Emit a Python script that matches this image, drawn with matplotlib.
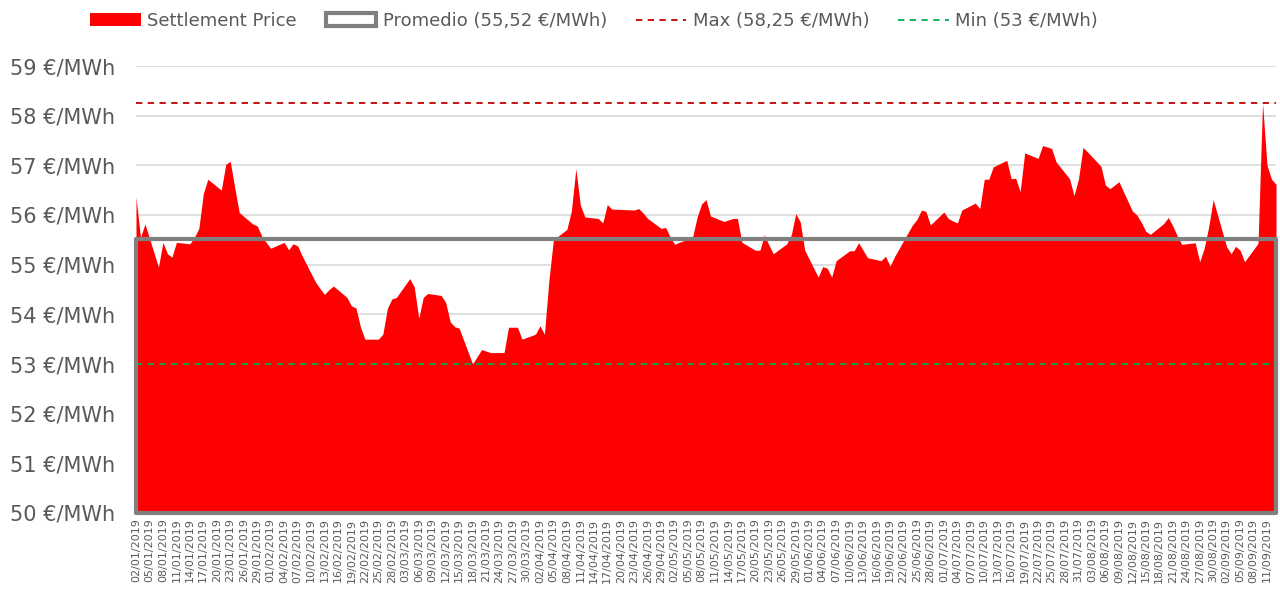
import matplotlib
matplotlib.use('Agg')
import matplotlib.pyplot as plt
from matplotlib.patches import Patch
from matplotlib.lines import Line2D
import matplotlib.dates as mdates
import pandas as pd

plt.rcParams['font.family'] = 'DejaVu Sans'

# Business days Jan 2 - Sep 13 2019 (no settlement on Good Friday / Easter Monday)
holidays = ['2019-04-19', '2019-04-22']
days = pd.bdate_range('2019-01-02', '2019-09-13')
days = days[~days.isin(pd.to_datetime(holidays))]

prices = [
    # January
    56.36, 55.55, 55.82, 54.95, 55.45, 55.22, 55.15, 55.45, 55.42, 55.55, 55.73,
    56.43, 56.72, 56.50, 57.02, 57.08, 56.55, 56.05, 55.82, 55.78, 55.58, 55.45,
    # February
    55.33, 55.45, 55.30, 55.42, 55.38, 55.18, 54.65, 54.52, 54.40, 54.50, 54.57,
    54.34, 54.17, 54.13, 53.75, 53.50, 53.50, 53.60, 54.12, 54.31,
    # March
    54.34, 54.72, 54.55, 53.92, 54.34, 54.42, 54.38, 54.24, 53.85, 53.75, 53.72,
    53.00, 53.15, 53.29, 53.26, 53.23, 53.23, 53.74, 53.74, 53.74, 53.50,
    # April
    53.60, 53.77, 53.60, 54.69, 55.50, 55.71, 56.08, 56.93, 56.20, 55.96,
    55.93, 55.84, 56.21, 56.12, 56.10, 56.13, 56.04, 55.93, 55.73, 55.75,
    # May
    55.56, 55.41, 55.45, 55.55, 55.95, 56.22, 56.31, 55.98, 55.87, 55.90, 55.93,
    55.93, 55.45, 55.29, 55.29, 55.60, 55.40, 55.22, 55.42, 55.60, 56.03, 55.86,
    55.29,
    # June
    54.75, 54.96, 54.93, 54.75, 55.08, 55.28, 55.28, 55.44, 55.29, 55.14,
    55.08, 55.17, 54.97, 55.16, 55.32, 55.80, 55.91, 56.10, 56.07, 55.80,
    # July
    56.06, 55.93, 55.88, 55.84, 56.10, 56.24, 56.13, 56.72, 56.72, 56.97, 57.10,
    56.73, 56.74, 56.47, 57.25, 57.14, 57.40, 57.37, 57.34, 57.07, 56.73, 56.39,
    56.73,
    # August
    57.36, 57.27, 56.98, 56.60, 56.53, 56.60, 56.67, 56.08, 56.00, 55.85, 55.67,
    55.61, 55.83, 55.95, 55.78, 55.58, 55.41, 55.44, 55.06, 55.33, 55.76, 56.31,
    # September
    55.36, 55.22, 55.37, 55.29, 55.06, 55.43, 58.25, 57.00, 56.72, 56.62,
]

avg_price = 55.52
max_price = 58.25
min_price = 53.00

y_ticks = list(range(50, 60))
grey_txt = '#595959'

fig = plt.figure(figsize=(12.8, 5.9), dpi=100)
ax = fig.add_axes([136 / 1280, 1 - 513 / 590, 1140 / 1280, (513 - 66) / 590])

ax.fill_between(days, 50, prices, color='#FF0000', lw=0, zorder=2)
ax.fill_between(days, 50, avg_price, facecolor='none', edgecolor='#808080',
                lw=3, zorder=4, clip_on=False)
ax.axhline(max_price, color='#C00000', lw=1.3, dashes=(3.5, 3), zorder=3)
ax.axhline(min_price, color='#00B050', lw=1.3, dashes=(3.5, 3), zorder=3)

ax.set_xlim(days[0], days[-1])
ax.set_ylim(50, 59)
ax.set_yticks(y_ticks)
ax.set_yticklabels([f'{v} €/MWh' for v in y_ticks])
ax.grid(axis='y', color='#D9D9D9', lw=1.2, zorder=0)
ax.set_axisbelow(True)

ticks = pd.date_range('2019-01-02', '2019-09-11', freq='3D')
ax.set_xticks(ticks)
ax.xaxis.set_major_formatter(mdates.DateFormatter('%d/%m/%Y'))
ax.tick_params(axis='x', length=0, labelsize=8, labelcolor=grey_txt,
               labelrotation=90, pad=4)
ax.tick_params(axis='y', length=0, labelsize=15, labelcolor=grey_txt, pad=15)
for s in ax.spines.values():
    s.set_visible(False)

handles = [
    Patch(facecolor='#FF0000', edgecolor='none'),
    Patch(facecolor='white', edgecolor='#808080', lw=3),
    Line2D([], [], color='#C00000', lw=1.3, dashes=(3.5, 3)),
    Line2D([], [], color='#00B050', lw=1.3, dashes=(3.5, 3)),
]
labels = ['Settlement Price', 'Promedio (55,52 €/MWh)',
          'Max (58,25 €/MWh)', 'Min (53 €/MWh)']
leg = fig.legend(handles, labels, loc='center', bbox_to_anchor=(594 / 1280, 1 - 21 / 590),
                 ncol=4, frameon=False, fontsize=13, handlelength=2.8,
                 handletextpad=0.35, columnspacing=1.6, labelcolor=grey_txt)

fig.savefig('out.png', dpi=100)
